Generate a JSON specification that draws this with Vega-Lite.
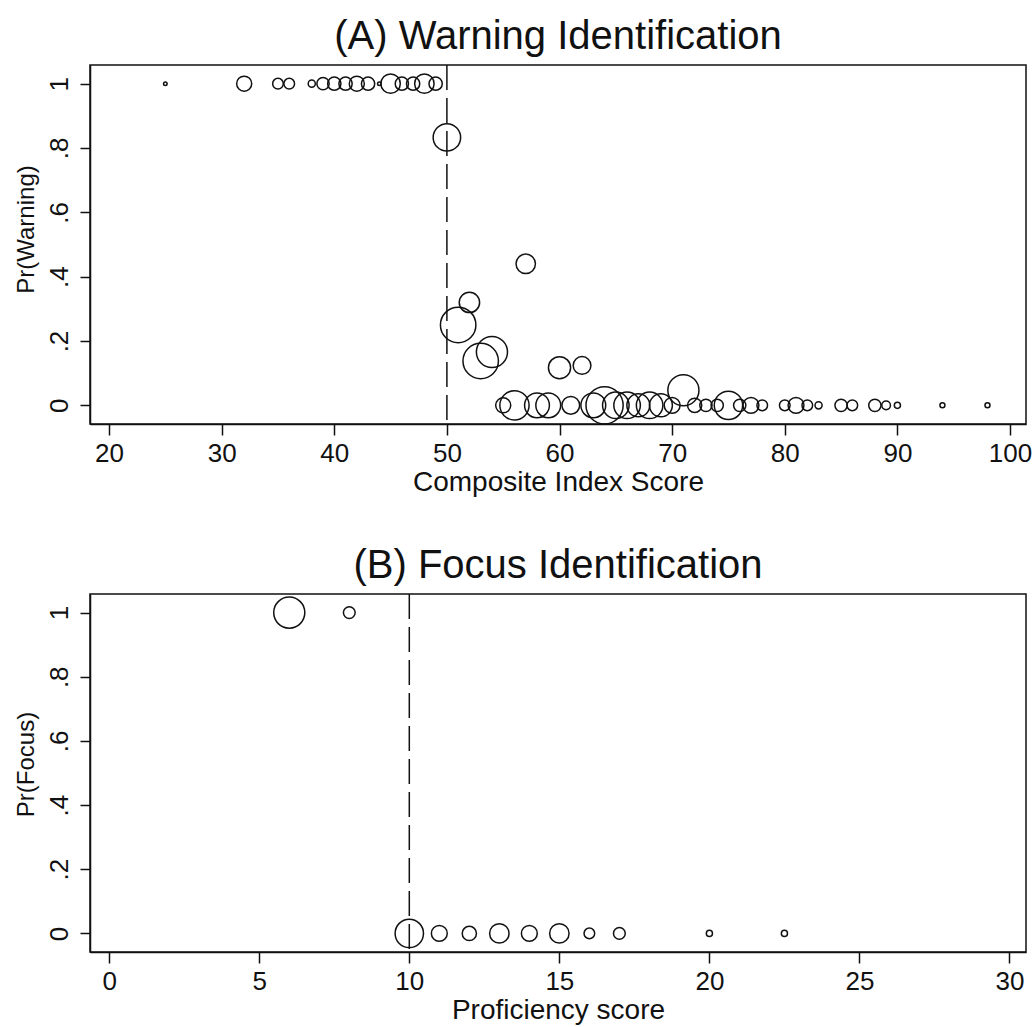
{
  "$schema": "https://vega.github.io/schema/vega-lite/v6.json",
  "background": "white",
  "padding": {"left": 13, "top": 16, "right": 5, "bottom": 0},
  "spacing": 48,
  "config": {
    "font": "Liberation Sans",
    "view": {"stroke": "#111111", "strokeWidth": 1.5},
    "axis": {
      "grid": false,
      "domainColor": "#111111",
      "domainWidth": 1.5,
      "tickColor": "#111111",
      "tickWidth": 1.5,
      "labelColor": "#111111",
      "titleColor": "#111111",
      "labelFontSize": 26,
      "titleFontWeight": "normal",
      "labelFlush": false,
      "labelOverlap": false
    },
    "axisX": {"tickSize": 11, "labelPadding": 5, "titlePadding": 2, "titleFontSize": 28},
    "axisY": {"tickSize": 10, "labelPadding": 8, "labelAngle": 270, "labelAlign": "center", "labelBaseline": "bottom", "titlePadding": 8, "titleFontSize": 24},
    "title": {"fontSize": 40, "fontWeight": "normal", "color": "#111111", "baseline": "alphabetic", "offset": 7}
  },
  "datasets": {
    "warning": [
      {"score": 25, "pr": 1, "n": 1},
      {"score": 32, "pr": 1, "n": 18},
      {"score": 35, "pr": 1, "n": 9},
      {"score": 36, "pr": 1, "n": 9},
      {"score": 38, "pr": 1, "n": 4},
      {"score": 39, "pr": 1, "n": 12},
      {"score": 40, "pr": 1, "n": 14},
      {"score": 41, "pr": 1, "n": 14},
      {"score": 42, "pr": 1, "n": 18},
      {"score": 43, "pr": 1, "n": 14},
      {"score": 44, "pr": 1, "n": 1},
      {"score": 45, "pr": 1, "n": 30},
      {"score": 46, "pr": 1, "n": 14},
      {"score": 47, "pr": 1, "n": 14},
      {"score": 48, "pr": 1, "n": 30},
      {"score": 49, "pr": 1, "n": 14},
      {"score": 50, "pr": 0.833, "n": 60},
      {"score": 51, "pr": 0.25, "n": 100},
      {"score": 52, "pr": 0.32, "n": 33},
      {"score": 53, "pr": 0.138, "n": 100},
      {"score": 54, "pr": 0.166, "n": 77},
      {"score": 55, "pr": 0, "n": 18},
      {"score": 56, "pr": 0, "n": 68},
      {"score": 57, "pr": 0.44, "n": 30},
      {"score": 58, "pr": 0, "n": 49},
      {"score": 59, "pr": 0, "n": 49},
      {"score": 60, "pr": 0.117, "n": 39},
      {"score": 61, "pr": 0, "n": 25},
      {"score": 62, "pr": 0.124, "n": 25},
      {"score": 63, "pr": 0, "n": 49},
      {"score": 64, "pr": 0, "n": 110},
      {"score": 65, "pr": 0, "n": 56},
      {"score": 66, "pr": 0, "n": 56},
      {"score": 67, "pr": 0, "n": 42},
      {"score": 68, "pr": 0, "n": 56},
      {"score": 69, "pr": 0, "n": 42},
      {"score": 70, "pr": 0, "n": 20},
      {"score": 71, "pr": 0.047, "n": 77},
      {"score": 72, "pr": 0, "n": 16},
      {"score": 73, "pr": 0, "n": 12},
      {"score": 74, "pr": 0, "n": 12},
      {"score": 75, "pr": 0, "n": 64},
      {"score": 76, "pr": 0, "n": 12},
      {"score": 77, "pr": 0, "n": 20},
      {"score": 78, "pr": 0, "n": 9},
      {"score": 80, "pr": 0, "n": 9},
      {"score": 81, "pr": 0, "n": 20},
      {"score": 82, "pr": 0, "n": 9},
      {"score": 83, "pr": 0, "n": 4},
      {"score": 85, "pr": 0, "n": 12},
      {"score": 86, "pr": 0, "n": 9},
      {"score": 88, "pr": 0, "n": 12},
      {"score": 89, "pr": 0, "n": 6},
      {"score": 90, "pr": 0, "n": 3},
      {"score": 94, "pr": 0, "n": 2},
      {"score": 98, "pr": 0, "n": 2}
    ],
    "focus": [
      {"score": 6, "pr": 1, "n": 77},
      {"score": 8, "pr": 1, "n": 11},
      {"score": 10, "pr": 0, "n": 64},
      {"score": 11, "pr": 0, "n": 20},
      {"score": 12, "pr": 0, "n": 16},
      {"score": 13, "pr": 0, "n": 30},
      {"score": 14, "pr": 0, "n": 20},
      {"score": 15, "pr": 0, "n": 30},
      {"score": 16, "pr": 0, "n": 9},
      {"score": 17, "pr": 0, "n": 11},
      {"score": 20, "pr": 0, "n": 3},
      {"score": 22.5, "pr": 0, "n": 3}
    ]
  },
  "vconcat": [
    {
      "title": "(A) Warning Identification",
      "width": 936,
      "height": 359,
      "layer": [
        {
          "data": {"name": "warning"},
          "mark": {"type": "point", "shape": "circle", "filled": false, "stroke": "#111111", "strokeWidth": 1.5, "opacity": 1},
          "encoding": {
            "x": {
              "field": "score", "type": "quantitative",
              "scale": {"domain": [18.31, 101.42], "nice": false, "zero": false},
              "axis": {"title": "Composite Index Score", "values": [20, 30, 40, 50, 60, 70, 80, 90, 100]}
            },
            "y": {
              "field": "pr", "type": "quantitative",
              "scale": {"domain": [-0.058, 1.058], "nice": false},
              "axis": {
                "title": "Pr(Warning)",
                "titleY": 164,
                "values": [0, 0.2, 0.4, 0.6, 0.8, 1],
                "labelExpr": "datum.value == 0 ? '0' : datum.value == 1 ? '1' : '.' + round(datum.value * 10)"
              }
            },
            "size": {
              "field": "n", "type": "quantitative",
              "scale": {"domain": [0, 100], "range": [0, 1257], "zero": true},
              "legend": null
            }
          }
        },
        {
          "data": {"values": [{"cutoff": 50}]},
          "mark": {"type": "rule", "stroke": "#111111", "strokeWidth": 1.5, "strokeDash": [25, 8]},
          "encoding": {"x": {"field": "cutoff", "type": "quantitative"}}
        }
      ]
    },
    {
      "title": "(B) Focus Identification",
      "width": 936,
      "height": 358,
      "layer": [
        {
          "data": {"name": "focus"},
          "mark": {"type": "point", "shape": "circle", "filled": false, "stroke": "#111111", "strokeWidth": 1.5, "opacity": 1},
          "encoding": {
            "x": {
              "field": "score", "type": "quantitative",
              "scale": {"domain": [-0.64, 30.55], "nice": false, "zero": false},
              "axis": {"title": "Proficiency score", "values": [0, 5, 10, 15, 20, 25, 30]}
            },
            "y": {
              "field": "pr", "type": "quantitative",
              "scale": {"domain": [-0.058, 1.058], "nice": false},
              "axis": {
                "title": "Pr(Focus)",
                "titleY": 170,
                "values": [0, 0.2, 0.4, 0.6, 0.8, 1],
                "labelExpr": "datum.value == 0 ? '0' : datum.value == 1 ? '1' : '.' + round(datum.value * 10)"
              }
            },
            "size": {
              "field": "n", "type": "quantitative",
              "scale": {"domain": [0, 100], "range": [0, 1257], "zero": true},
              "legend": null
            }
          }
        },
        {
          "data": {"values": [{"cutoff": 10}]},
          "mark": {"type": "rule", "stroke": "#111111", "strokeWidth": 1.5, "strokeDash": [25, 8]},
          "encoding": {"x": {"field": "cutoff", "type": "quantitative"}}
        }
      ]
    }
  ]
}
